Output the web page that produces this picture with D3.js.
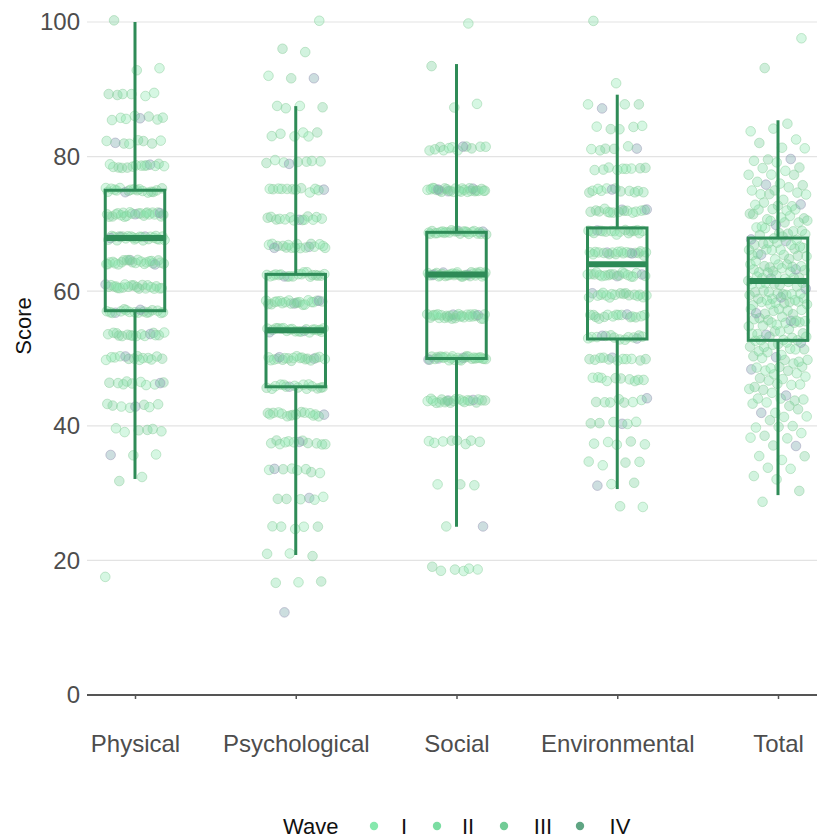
<!DOCTYPE html>
<html>
<head>
<meta charset="utf-8">
<script src="https://cdn.jsdelivr.net/npm/d3@7"></script>
<style>
  body { margin: 0; background: #fff; }
  text { font-family: "Liberation Sans", Arial, sans-serif; }
</style>
</head>
<body>
<svg id="chart" width="817" height="839"></svg>
<script>
// categories and box statistics (lower whisker, Q1, median, Q3, upper whisker)
var domains = ['Physical', 'Psychological', 'Social', 'Environmental', 'Total'];
var boxLow = [32.1, 20.8, 25.0, 30.6, 29.7];
var boxQ1 = [57.1, 45.8, 50.0, 52.9, 52.7];
var boxMed = [67.9, 54.2, 62.5, 64.0, 61.5];
var boxQ3 = [75.0, 62.5, 68.75, 69.4, 67.9];
var boxHigh = [100, 87.5, 93.75, 89.2, 85.4];

// observed score levels and how many respondents sit on each
var physicalLevels = [17.9, 32.1, 35.7, 39.3, 42.9, 46.4, 50, 53.6, 57.1, 60.7, 64.3, 67.9, 71.4, 75, 78.6, 82.1, 85.7, 89.3, 92.9, 100];
var physicalCounts = [1, 2, 3, 6, 8, 10, 14, 16, 18, 22, 24, 26, 24, 18, 14, 8, 8, 6, 2, 1];
var psychLevels = [12.5, 16.7, 20.8, 25, 29.2, 33.3, 37.5, 41.7, 45.8, 50, 54.2, 58.3, 62.5, 66.7, 70.8, 75, 79.2, 83.3, 87.5, 91.7, 95.8, 100];
var psychCounts = [1, 3, 3, 5, 6, 8, 12, 16, 16, 20, 22, 22, 20, 18, 14, 12, 8, 6, 4, 3, 2, 1];
var socialLevels = [18.75, 25, 31.25, 37.5, 43.75, 50, 56.25, 62.5, 68.75, 75, 81.25, 87.5, 93.75, 100];
var socialCounts = [6, 2, 3, 8, 22, 30, 30, 34, 26, 28, 12, 2, 1, 1];
var envLevels = [28.1, 31.25, 34.4, 37.5, 40.6, 43.75, 46.9, 50, 53.1, 56.25, 59.4, 62.5, 65.6, 68.75, 71.9, 75, 78.1, 81.25, 84.4, 87.5, 90.6, 100];
var envCounts = [2, 3, 4, 5, 6, 8, 10, 12, 14, 16, 18, 20, 20, 18, 16, 12, 9, 6, 5, 4, 1, 1];
var totalLevels = [29, 30, 32, 33, 34, 35, 36, 37, 38, 39, 40, 41, 42, 43, 44, 45, 46, 47, 48, 49, 50, 51, 52, 53, 54, 55, 56, 57, 58, 59, 60,
  61, 62, 63, 64, 65, 66, 67, 68, 69, 70, 71, 72, 73, 74, 75, 76, 77, 78, 79, 80, 81, 82, 83, 84, 85, 93, 98];
var totalCounts = [1, 1, 1, 1, 2, 2, 1, 2, 2, 2, 3, 3, 3, 3, 4, 4, 4, 4, 5, 5, 6, 6, 6, 7, 7, 7, 7, 8, 8, 8, 8,
  8, 8, 8, 8, 7, 7, 7, 6, 6, 6, 5, 5, 5, 4, 4, 4, 3, 3, 2, 2, 2, 1, 1, 2, 1, 1, 1];

var waves = ['I', 'II', 'III', 'IV'];
var waveFill = ['#86e8ad', '#7bdda2', '#72cc96', '#6a9fa0'];
var waveLegend = ['#86e8ad', '#7bdda2', '#72cc96', '#5fa583'];
var yTicks = [0, 20, 40, 60, 80, 100];

(function() {
  var levelSets = [
    [physicalLevels, physicalCounts, 0.35],
    [psychLevels, psychCounts, 0.35],
    [socialLevels, socialCounts, 0.35],
    [envLevels, envCounts, 0.35],
    [totalLevels, totalCounts, 0.5]
  ];
  var wavePattern = [0, 1, 2, 0, 1, 3, 2, 0, 1, 2, 0, 1];

  function frac(v) { return v - Math.floor(v); }

  var points = [];
  levelSets.forEach(function(set, c) {
    var k = 0;
    set[0].forEach(function(v, j) {
      for (var n = 0; n < set[1][j]; n++) {
        points.push({
          domain: domains[c],
          score: v,
          // fixed jitter offsets so the dots do not sit on one line
          jx: frac(k * 0.618034 + c * 0.31) - 0.5,
          jy: frac(Math.sin(k * 12.9898 + c * 78.233) * 43758.5453) - 0.5,
          vj: set[2],
          wave: wavePattern[(k + c * 5) % wavePattern.length]
        });
        k++;
      }
    });
  });

  var svg = d3.select('#chart');
  var mLeft = 87, mRight = 817, mTop = 22, mBottom = 695;

  var x = d3.scalePoint().domain(domains).range([135, 778]);
  var step = x.step();
  var y = d3.scaleLinear().domain([0, 100]).range([mBottom, mTop]);

  // grid
  svg.append('g').selectAll('line')
    .data(yTicks.filter(function(d) { return d > 0; }))
    .enter().append('line')
    .attr('x1', mLeft).attr('x2', mRight)
    .attr('y1', function(d) { return y(d); })
    .attr('y2', function(d) { return y(d); })
    .attr('stroke', '#e3e3e3')
    .attr('stroke-width', 1.2);

  // y tick labels
  svg.append('g').selectAll('text')
    .data(yTicks)
    .enter().append('text')
    .attr('x', 80)
    .attr('y', function(d) { return y(d); })
    .attr('dy', '0.35em')
    .attr('text-anchor', 'end')
    .attr('font-size', 24)
    .attr('fill', '#4d4d4d')
    .text(function(d) { return d; });

  svg.append('text')
    .attr('transform', 'translate(31,' + 326 + ') rotate(-90)')
    .attr('text-anchor', 'middle')
    .attr('font-size', 22)
    .attr('fill', '#111')
    .text('Score');

  // x axis
  var xAxis = svg.append('g')
    .attr('transform', 'translate(0,' + mBottom + ')')
    .call(d3.axisBottom(x).tickSize(4).tickPadding(36));
  xAxis.select('.domain').remove();
  xAxis.append('line')
    .attr('x1', mLeft).attr('x2', mRight)
    .attr('stroke', '#555').attr('stroke-width', 2);
  xAxis.selectAll('.tick line').attr('stroke', '#555').attr('stroke-width', 1.5);
  xAxis.selectAll('.tick text')
    .attr('font-size', 24)
    .attr('font-family', '"Liberation Sans", Arial, sans-serif')
    .attr('fill', '#4d4d4d');

  // jittered points
  svg.append('g').selectAll('circle')
    .data(points)
    .enter().append('circle')
    .attr('cx', function(d) { return x(d.domain) + d.jx * step * 0.37; })
    .attr('cy', function(d) { return y(d.score + d.jy * 2 * d.vj); })
    .attr('r', 4.8)
    .attr('fill', function(d) { return waveFill[d.wave]; })
    .attr('fill-opacity', 0.34)
    .attr('stroke', function(d) { return d.wave === 3 ? '#9c98b8' : '#8fcf9f'; })
    .attr('stroke-opacity', 0.5)
    .attr('stroke-width', 1);

  // boxes
  var boxW = step * 0.37;
  var boxes = svg.append('g').selectAll('g')
    .data(domains)
    .enter().append('g');
  boxes.append('line')
    .attr('x1', function(d) { return x(d); })
    .attr('x2', function(d) { return x(d); })
    .attr('y1', function(d, i) { return y(boxHigh[i]); })
    .attr('y2', function(d, i) { return y(boxQ3[i]); })
    .attr('stroke', '#2e8b57').attr('stroke-width', 3);
  boxes.append('line')
    .attr('x1', function(d) { return x(d); })
    .attr('x2', function(d) { return x(d); })
    .attr('y1', function(d, i) { return y(boxQ1[i]); })
    .attr('y2', function(d, i) { return y(boxLow[i]); })
    .attr('stroke', '#2e8b57').attr('stroke-width', 3);
  boxes.append('rect')
    .attr('x', function(d) { return x(d) - boxW / 2; })
    .attr('y', function(d, i) { return y(boxQ3[i]); })
    .attr('width', boxW)
    .attr('height', function(d, i) { return y(boxQ1[i]) - y(boxQ3[i]); })
    .attr('fill', 'none')
    .attr('stroke', '#2e8b57').attr('stroke-width', 3);
  boxes.append('line')
    .attr('x1', function(d) { return x(d) - boxW / 2; })
    .attr('x2', function(d) { return x(d) + boxW / 2; })
    .attr('y1', function(d, i) { return y(boxMed[i]); })
    .attr('y2', function(d, i) { return y(boxMed[i]); })
    .attr('stroke', '#2e8b57').attr('stroke-width', 6);

  // legend
  var legend = svg.append('g').attr('transform', 'translate(0,826)');
  legend.append('text')
    .attr('x', 283).attr('dy', '0.35em')
    .attr('font-size', 22).attr('fill', '#111')
    .text('Wave');
  var keyX = [374, 437, 504, 580];
  var labX = [404, 468, 543, 620];
  waves.forEach(function(w, i) {
    legend.append('circle')
      .attr('cx', keyX[i]).attr('r', 4.2)
      .attr('fill', waveLegend[i]);
    legend.append('text')
      .attr('x', labX[i]).attr('dy', '0.35em')
      .attr('text-anchor', 'middle')
      .attr('font-size', 22).attr('fill', '#111')
      .text(w);
  });
})();
</script>
</body>
</html>
